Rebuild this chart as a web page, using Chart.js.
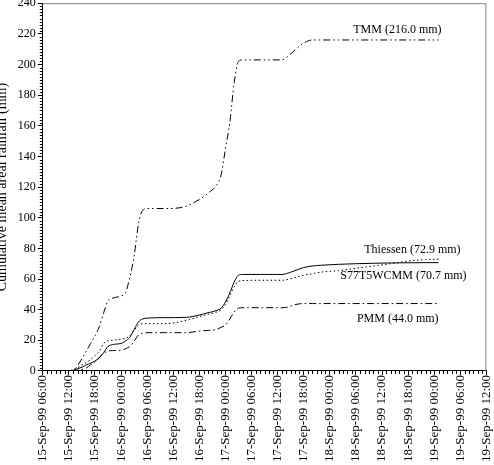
<!DOCTYPE html>
<html>
<head>
<meta charset="utf-8">
<script src="https://cdn.jsdelivr.net/npm/chart.js@4"></script>
<style>
html, body { margin: 0; padding: 0; background: #fff; overflow: hidden; }
#rainChart { display: block; margin-top: -6px; }
</style>
</head>
<body>
<canvas id="rainChart" width="502" height="468"></canvas>
<script>
// hours since 15-Sep-99 06:00
const hours = [0, 6, 7, 8, 9, 10, 11, 12, 13, 14, 15, 16, 18, 19, 20, 21, 22, 23, 24, 28, 33, 36, 38, 40, 41, 42, 43, 44, 45, 46, 50, 55, 56, 58, 60, 62, 64, 68, 72, 76, 80, 84, 88, 91];
const tmmValues = [0, 0, 0.3, 3.5, 8, 13, 18, 23, 29, 38, 46, 47.5, 49, 51, 61, 75, 96, 105, 106, 106, 107.5, 112, 116, 121.5, 128, 145, 162, 188, 202, 203, 203, 203, 204.5, 209.5, 214, 216, 216, 216, 216, 216, 216, 216, 216, 216];
const thiessenValues = [0, 0, 1, 2.2, 4, 5.5, 7.5, 10, 13, 18, 19.7, 20, 20.8, 21.3, 23, 26.5, 30, 30.8, 30.9, 30.9, 33, 35.5, 37, 38.5, 40, 43.5, 49, 55, 58.5, 59, 59.2, 59.2, 59.5, 61, 62.5, 63.5, 64.5, 65.5, 67, 68.5, 70, 71.7, 72.7, 72.9];
const s77Values = [0, 0, 0.5, 1.5, 2.5, 4, 5, 6.5, 8.5, 12, 16, 17.2, 18, 19.5, 22, 27, 32, 34, 34.5, 34.8, 35, 36.5, 38, 39.5, 41, 45, 51, 58, 62.5, 63, 63, 63, 63.5, 65.5, 67.5, 68.5, 69, 69.6, 70, 70.3, 70.5, 70.6, 70.7, 70.7];
const pmmValues = [0, 0, 0, 0.5, 1, 2, 4, 6, 9, 11.5, 13, 13.3, 13.5, 14.5, 16, 19.5, 23.5, 24.7, 25, 25, 25, 26, 26.5, 27.2, 28.5, 30, 34, 38.5, 41, 41.3, 41.3, 41.3, 41.5, 43.3, 44, 44, 44, 44, 44, 44, 44, 44, 44, 44];

const seriesNames = ["TMM", "Thiessen", "S77T5WCMM", "PMM"];
const seriesTotals = [216.0, 72.9, 70.7, 44.0];

const tickLabels = [
    "15-Sep-99 06:00", "15-Sep-99 12:00", "15-Sep-99 18:00",
    "16-Sep-99 00:00", "16-Sep-99 06:00", "16-Sep-99 12:00", "16-Sep-99 18:00",
    "17-Sep-99 00:00", "17-Sep-99 06:00", "17-Sep-99 12:00", "17-Sep-99 18:00",
    "18-Sep-99 00:00", "18-Sep-99 06:00", "18-Sep-99 12:00", "18-Sep-99 18:00",
    "19-Sep-99 00:00", "19-Sep-99 06:00", "19-Sep-99 12:00"
];

const serif = "'Liberation Serif', 'Times New Roman', serif";

function points(values) {
    return hours.map(function (h, i) { return { x: h, y: values[i] }; });
}

function lineSet(i, values, dash) {
    return {
        label: seriesNames[i],
        data: points(values),
        borderColor: "#000",
        backgroundColor: "#000",
        borderWidth: 1,
        borderDash: dash,
        pointRadius: 0,
        cubicInterpolationMode: "monotone",
        fill: false,
    };
}

// frame, minor ticks and end labels
const extrasPlugin = {
    id: "extras",
    afterDraw(chart) {
        const ctx = chart.ctx;
        const a = chart.chartArea;
        const xs = chart.scales.x;
        const ys = chart.scales.y;
        ctx.save();
        ctx.lineWidth = 1;
        ctx.strokeStyle = "#808080";
        ctx.beginPath();
        ctx.moveTo(a.left, a.top + 0.5);
        ctx.lineTo(a.right - 0.5, a.top + 0.5);
        ctx.lineTo(a.right - 0.5, a.bottom);
        ctx.stroke();

        ctx.strokeStyle = "#000";
        ctx.beginPath();
        for (let h = 0; h <= 102; h++) {
            if (h % 6 === 0) continue;
            const px = Math.round(xs.getPixelForValue(h)) + 0.5;
            ctx.moveTo(px, a.bottom);
            ctx.lineTo(px, a.bottom + 3);
        }
        for (let v = 0; v <= 240; v += 2) {
            if (v % 20 === 0) continue;
            const py = Math.round(ys.getPixelForValue(v)) + 0.5;
            ctx.moveTo(a.left, py);
            ctx.lineTo(a.left - 3, py);
        }
        ctx.stroke();

        // labels next to the series ends
        const endX = xs.getPixelForValue(hours[hours.length - 1]);
        const offsets = [[3, -10], [22, -9], [28, 13.5], [0, 15.5]];
        ctx.fillStyle = "#000";
        ctx.font = "12px " + serif;
        ctx.textAlign = "right";
        ctx.textBaseline = "middle";
        seriesNames.forEach(function (name, i) {
            const txt = name + " (" + seriesTotals[i].toFixed(1) + " mm)";
            ctx.fillText(txt, endX + offsets[i][0], ys.getPixelForValue(seriesTotals[i]) + offsets[i][1]);
        });
        ctx.restore();
    }
};

function renderRainChart() {
    const ctx = document.getElementById("rainChart").getContext("2d");
    new Chart(ctx, {
        type: "line",
        data: {
            datasets: [
                lineSet(0, tmmValues, [7, 3, 1.5, 3, 1.5, 3]),
                lineSet(1, thiessenValues, [1.5, 2.5]),
                lineSet(2, s77Values, []),
                lineSet(3, pmmValues, [7, 3, 1.5, 3]),
            ],
        },
        options: {
            responsive: false,
            animation: false,
            devicePixelRatio: 1,
            layout: { padding: { left: -1, top: 0, right: 0, bottom: 0 } },
            plugins: { legend: { display: false }, tooltip: { enabled: false }, colors: { enabled: false } },
            scales: {
                x: {
                    type: "linear",
                    min: 0,
                    max: 102,
                    ticks: {
                        stepSize: 6,
                        autoSkip: false,
                        maxRotation: 90,
                        minRotation: 90,
                        padding: 0,
                        color: "#000",
                        font: { family: serif, size: 13 },
                        callback: function (v) { return tickLabels[v / 6]; },
                    },
                    grid: { drawOnChartArea: false, tickLength: 4, color: "#000" },
                    border: { color: "#000" },
                },
                y: {
                    min: 0,
                    max: 240,
                    ticks: {
                        stepSize: 20,
                        padding: 2,
                        color: "#000",
                        font: { family: serif, size: 12 },
                    },
                    grid: { drawOnChartArea: false, tickLength: 5, color: "#000" },
                    border: { color: "#000" },
                    title: {
                        display: true,
                        text: "Cumulative mean areal rainfall (mm)",
                        color: "#000",
                        font: { family: serif, size: 14 },
                        padding: { top: -5, bottom: 5 },
                    },
                },
            },
        },
        plugins: [extrasPlugin],
    });
}

document.addEventListener("DOMContentLoaded", function () {
    renderRainChart();
});
</script>
</body>
</html>
